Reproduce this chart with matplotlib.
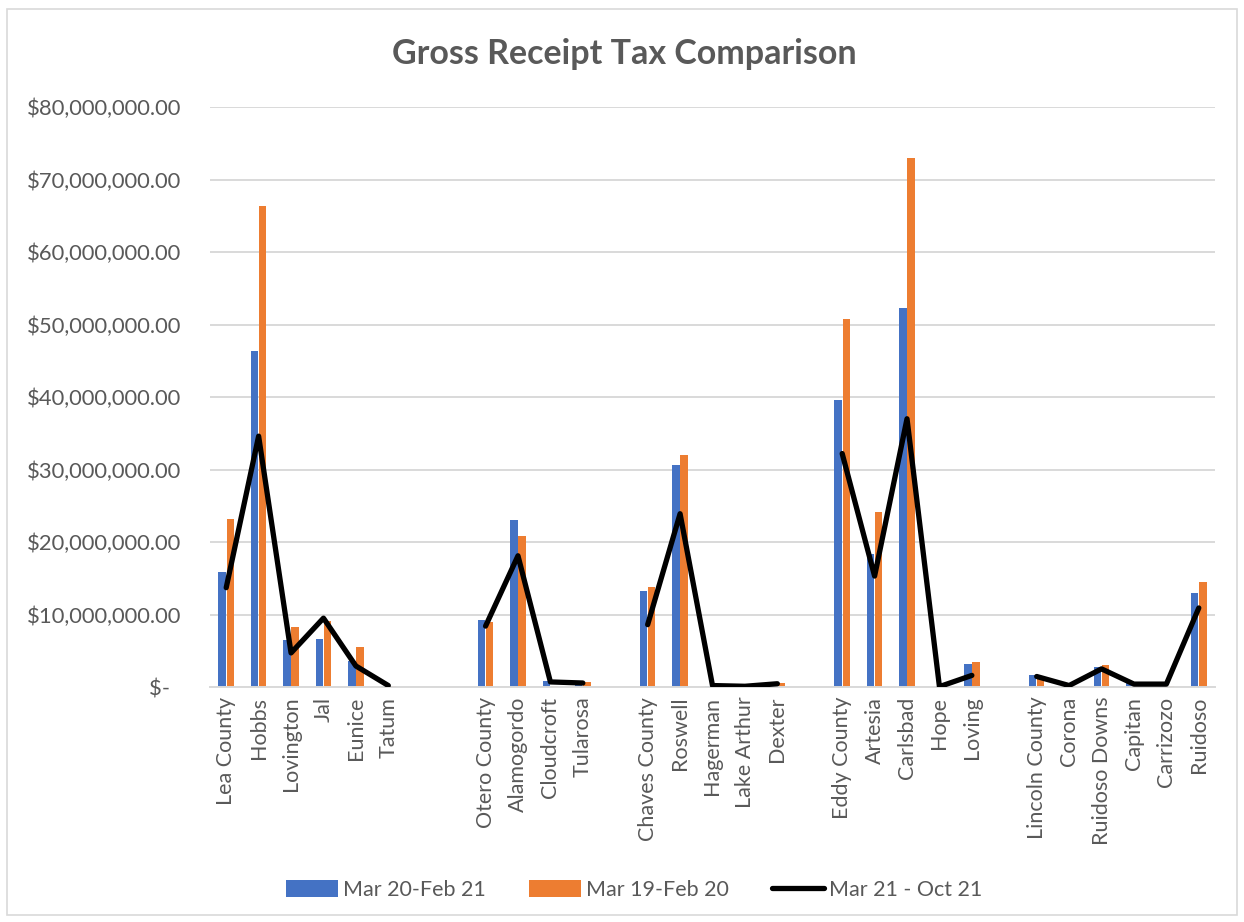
import numpy as np
import matplotlib
matplotlib.use("Agg")
import matplotlib.pyplot as plt
from matplotlib.patches import Rectangle
from matplotlib.ticker import FuncFormatter, MultipleLocator

plt.rcParams['font.family'] = ['Lato', 'DejaVu Sans']

categories = ["Lea County", "Hobbs", "Lovington", "Jal", "Eunice", "Tatum", "", "",
              "Otero County", "Alamogordo", "Cloudcroft", "Tularosa", "",
              "Chaves County", "Roswell", "Hagerman", "Lake Arthur", "Dexter", "",
              "Eddy County", "Artesia", "Carlsbad", "Hope", "Loving", "",
              "Lincoln County", "Corona", "Ruidoso Downs", "Capitan", "Carrizozo", "Ruidoso"]

# values in millions of dollars (None = empty spacer category)
mar20_feb21 = [15.9, 46.3, 6.5, 6.6, 3.6, 0.1, None, None,
               9.2, 23.0, 0.8, 0.3, None,
               13.2, 30.6, 0.2, 0.05, 0.1, None,
               39.6, 18.4, 52.3, 0.0, 3.2, None,
               1.6, 0.1, 2.7, 0.5, 0.2, 13.0]
mar19_feb20 = [23.2, 66.3, 8.3, 9.1, 5.5, 0.2, None, None,
               9.0, 20.8, 0.1, 0.7, None,
               13.8, 32.0, 0.0, 0.0, 0.6, None,
               50.8, 24.2, 73.0, 0.0, 3.4, None,
               1.4, 0.1, 3.1, 0.2, 0.2, 14.5]
mar21_oct21 = [13.7, 34.6, 4.7, 9.5, 2.9, 0.2, None, None,
               8.4, 18.1, 0.7, 0.55, None,
               8.6, 23.9, 0.2, 0.1, 0.45, None,
               32.2, 15.3, 37.0, 0.05, 1.6, None,
               1.45, 0.2, 2.5, 0.4, 0.4, 10.9]

series_names = ["Mar 20-Feb 21", "Mar 19-Feb 20", "Mar 21 - Oct 21"]
title = "Gross Receipt Tax Comparison"

def to_arr(v):
    return np.array([np.nan if x is None else x * 1e6 for x in v], dtype=float)

b1 = to_arr(mar20_feb21)
b2 = to_arr(mar19_feb20)
ln = to_arr(mar21_oct21)
x = np.arange(len(categories))

fig = plt.figure(figsize=(12.44, 9.22), dpi=100)
ax = fig.add_axes([210/1244, 1-687/922, (1215-210)/1244, (687-107)/922])

text_col = "#595959"
blue = "#4472C4"
orange = "#ED7D31"

w = 0.23
h1 = ax.bar(x - 0.125, np.nan_to_num(b1), width=w, color=blue, label=series_names[0], zorder=2)
h2 = ax.bar(x + 0.125, np.nan_to_num(b2), width=w, color=orange, label=series_names[1], zorder=2)
h3, = ax.plot(x, ln, color="black", lw=3.8, solid_capstyle="round", solid_joinstyle="round",
              label=series_names[2], zorder=3)

ax.set_xlim(-0.5, len(categories) - 0.5)
ax.set_ylim(0, 80e6)
ax.yaxis.set_major_locator(MultipleLocator(10e6))

def fmt(v, pos):
    if abs(v) < 1:
        return "$-  "
    return "${:,.2f}".format(v)
ax.yaxis.set_major_formatter(FuncFormatter(fmt))

ax.set_xticks(x)
ax.set_xticklabels(categories, rotation=90, fontsize=15.5, color=text_col)
ax.tick_params(axis='y', labelsize=15.8, labelcolor=text_col, length=0, pad=21)
ax.tick_params(axis='x', length=0, pad=7)

ax.grid(axis='y', color="#D9D9D9", lw=1.4, zorder=0)
ax.set_axisbelow(True)
for s in ["top", "right", "left"]:
    ax.spines[s].set_visible(False)
ax.spines["bottom"].set_color("#D9D9D9")
ax.spines["bottom"].set_linewidth(1.4)

fig.text(0.502, 1-54/922, title, ha="center", va="center", fontsize=24.5,
         fontweight="bold", color=text_col)

fig.legend([h1, h2, h3], series_names, loc="center", bbox_to_anchor=(0.51, 1-890/922), ncol=3,
           frameon=False, fontsize=15.5, labelcolor=text_col, handlelength=2.4,
           handleheight=0.8, handletextpad=0.25, columnspacing=2.0)

fig.patches.append(Rectangle((7/1244, 1-915/922), (1237-7)/1244, (915-9)/922,
                             transform=fig.transFigure, fill=False,
                             edgecolor="#D9D9D9", lw=1.2))

fig.savefig("out.png", dpi=100, facecolor="white")
